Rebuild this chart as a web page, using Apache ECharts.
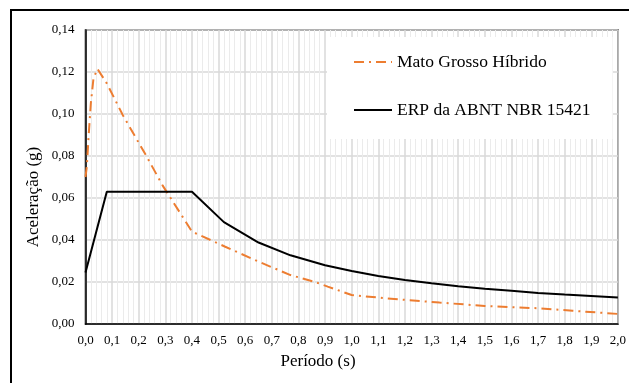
<!DOCTYPE html>
<html><head><meta charset="utf-8">
<script src="https://cdn.jsdelivr.net/npm/echarts@6/dist/echarts.min.js"></script>
<style>html,body{margin:0;padding:0;background:#fff}#c{width:629px;height:383px}</style>
</head><body><div id="c"></div>
<script>
var orangeName = 'Mato Grosso Híbrido';
var blackName = 'ERP da ABNT NBR 15421';
var orangeT = [0, 0.005, 0.012, 0.02, 0.03, 0.045, 0.08, 0.14, 0.23, 0.29, 0.40, 0.525, 0.65, 0.77, 0.86, 0.91, 1.0, 1.13, 1.33, 1.5, 1.7, 1.83, 2.0];
var orangeV = [0.070, 0.075, 0.090, 0.105, 0.117, 0.1215, 0.1146, 0.0995, 0.0797, 0.0659, 0.044, 0.0368, 0.0297, 0.0233, 0.0201, 0.0178, 0.0138, 0.0122, 0.0102, 0.0086, 0.0075, 0.0063, 0.0048];
var blackT = [0, 0.08, 0.4, 0.52, 0.65, 0.77, 0.9, 1.0, 1.1, 1.2, 1.3, 1.4, 1.5, 1.6, 1.7, 1.8, 1.9, 2.0];
var blackV = [0.0245, 0.063, 0.063, 0.0485, 0.0388, 0.0327, 0.028, 0.0252, 0.0229, 0.021, 0.0194, 0.018, 0.0168, 0.0158, 0.0148, 0.014, 0.0133, 0.0126];
var xTitle = 'Período (s)';
var yTitle = 'Aceleração (g)';

function pairs(a, b) { return a.map(function (t, i) { return [t, b[i]]; }); }
var font = '"Liberation Serif", "Times New Roman", serif';
var chart = echarts.init(document.getElementById('c'), null, {renderer: 'canvas'});
chart.setOption({
  animation: false,
  backgroundColor: '#fff',
  graphic: [
    {type: 'rect', shape: {x: 11, y: 10, width: 640, height: 400},
      style: {fill: 'none', stroke: '#000', lineWidth: 2}, z: -10},
    {type: 'text', x: 318, y: 362,
      style: {text: xTitle, font: '17px ' + font, fill: '#000', textAlign: 'center', textVerticalAlign: 'middle'}},
    {type: 'text', x: 34, y: 197, rotation: Math.PI / 2,
      style: {text: yTitle, font: '17px ' + font, fill: '#000', textAlign: 'center', textVerticalAlign: 'middle'}}
  ],
  grid: {left: 85.5, right: 5, top: 30, bottom: 59, show: true, borderColor: '#000', borderWidth: 1.5, backgroundColor: 'transparent'},
  legend: {
    orient: 'vertical', left: 327, top: 37,
    padding: [16, 22, 20, 26], itemGap: 30, itemWidth: 38, itemHeight: 14,
    backgroundColor: '#fff',
    itemStyle: {opacity: 0},
    textStyle: {fontFamily: font, fontSize: 17.5, color: '#000'},
    data: [orangeName, blackName]
  },
  xAxis: {
    type: 'value', min: 0, max: 2, interval: 0.1,
    axisLine: {show: true, lineStyle: {color: '#000', width: 1.5}},
    axisTick: {show: false},
    axisLabel: {fontFamily: font, fontSize: 13, color: '#000', margin: 10,
      formatter: function (v) { return v.toFixed(1).replace('.', ','); }},
    splitLine: {show: true, lineStyle: {color: '#d9d9d9', width: 1.5}},
    minorTick: {show: false, splitNumber: 5},
    minorSplitLine: {show: true, lineStyle: {color: '#ebebeb', width: 1}}
  },
  yAxis: {
    type: 'value', min: 0, max: 0.14, interval: 0.02,
    axisLine: {show: true, lineStyle: {color: '#000', width: 1.5}},
    axisTick: {show: false},
    axisLabel: {fontFamily: font, fontSize: 13, color: '#000', margin: 11,
      formatter: function (v) { return v.toFixed(2).replace('.', ','); }},
    splitLine: {show: true, lineStyle: {color: '#d9d9d9', width: 1.5}}
  },
  series: [
    {name: orangeName, type: 'line', data: pairs(orangeT, orangeV), showSymbol: false, symbol: 'none',
      lineStyle: {color: '#ED7D31', width: 2, type: [10, 5, 2, 5]}, itemStyle: {color: '#ED7D31'}, z: 3},
    {name: blackName, type: 'line', data: pairs(blackT, blackV), showSymbol: false, symbol: 'none',
      lineStyle: {color: '#000', width: 2}, itemStyle: {color: '#000'}, z: 4}
  ]
});
</script></body></html>
